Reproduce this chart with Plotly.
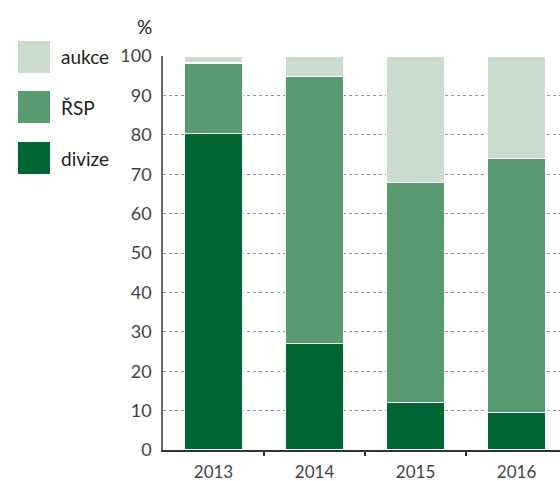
import plotly.graph_objects as go

years = ["2013", "2014", "2015", "2016"]
divize = [80.3, 27.0, 12.0, 9.5]
rsp = [17.9, 67.7, 55.8, 64.5]
aukce = [1.8, 5.3, 32.2, 26.0]
y_ticks = [0, 10, 20, 30, 40, 50, 60, 70, 80, 90, 100]

series = [
    ("divize", divize, "#006633"),
    ("ŘSP", rsp, "#5a9a71"),
    ("aukce", aukce, "#c9dccd"),
]

W, H = 560, 481
ML, MR, MT, MB = 163, 0, 56, 31

fig = go.Figure()
xs = list(range(len(years)))
for name, vals, col in series:
    fig.add_trace(go.Bar(
        x=xs, y=vals, name=name, width=0.58,
        marker=dict(color=col, line=dict(color="white", width=1.2)),
        showlegend=False,
    ))

fig.add_trace(go.Scatter(x=[0.5], y=[0], xaxis="x2", mode="markers",
                         marker=dict(opacity=0), showlegend=False, hoverinfo="skip"))

font_family = "Lato, 'Noto Sans', sans-serif"
fig.update_layout(
    width=W, height=H,
    margin=dict(l=ML, r=MR, t=MT, b=MB, autoexpand=False),
    barmode="stack",
    plot_bgcolor="white", paper_bgcolor="white",
    font=dict(family=font_family, color="#444444", size=17),
    xaxis=dict(
        range=[-0.5, 3.43], tickvals=xs, ticktext=years, automargin=False,
        showgrid=False, zeroline=False,
        showline=True, linecolor="#333333", linewidth=1.5,
        ticks="", tickfont=dict(size=17, color="#444444"),
        ticklabelstandoff=6,
    ),
    xaxis2=dict(
        range=[-0.5, 3.43], overlaying="x", anchor="y", automargin=False,
        tickvals=[0.5, 1.5, 2.5], ticktext=["", "", ""],
        ticks="outside", ticklen=5, tickwidth=1.5, tickcolor="#333333",
        showgrid=False, zeroline=False, showline=False, side="bottom",
    ),
    yaxis=dict(
        range=[0, 100], tickvals=y_ticks, automargin=False,
        showgrid=True, gridcolor="#999999", griddash="dot", gridwidth=1,
        zeroline=False, showline=True, linecolor="#666666", linewidth=1.5,
        ticks="", tickfont=dict(size=18, color="#444444"),
        ticklabelstandoff=6,
    ),
)

def px2paper(px, py):
    pw = W - ML - MR
    ph = H - MT - MB
    return (px - ML) / pw, 1 - (py - MT) / ph

ax, ay = px2paper(144, 27)
fig.add_annotation(text="%", x=ax, y=ay, xref="paper", yref="paper",
                   xanchor="center", yanchor="middle",
                   showarrow=False, font=dict(size=19, color="#222222"))

legend_items = [("aukce", "#c9dccd", 41), ("ŘSP", "#5a9a71", 91), ("divize", "#006633", 142)]
for name, col, top in legend_items:
    x0, y1 = px2paper(18, top)
    x1, y0 = px2paper(50, top + 32)
    fig.add_shape(type="rect", xref="paper", yref="paper", x0=x0, x1=x1, y0=y0, y1=y1,
                  fillcolor=col, line=dict(width=0))
    lx, ly = px2paper(59, top + 16)
    fig.add_annotation(text=name, x=lx, y=ly, xref="paper", yref="paper",
                       xanchor="left", yanchor="middle", showarrow=False,
                       font=dict(size=19, color="#222222"))

fig.write_html("out.html", config={"displayModeBar": False},
               post_script="document.body.style.margin='0';")
